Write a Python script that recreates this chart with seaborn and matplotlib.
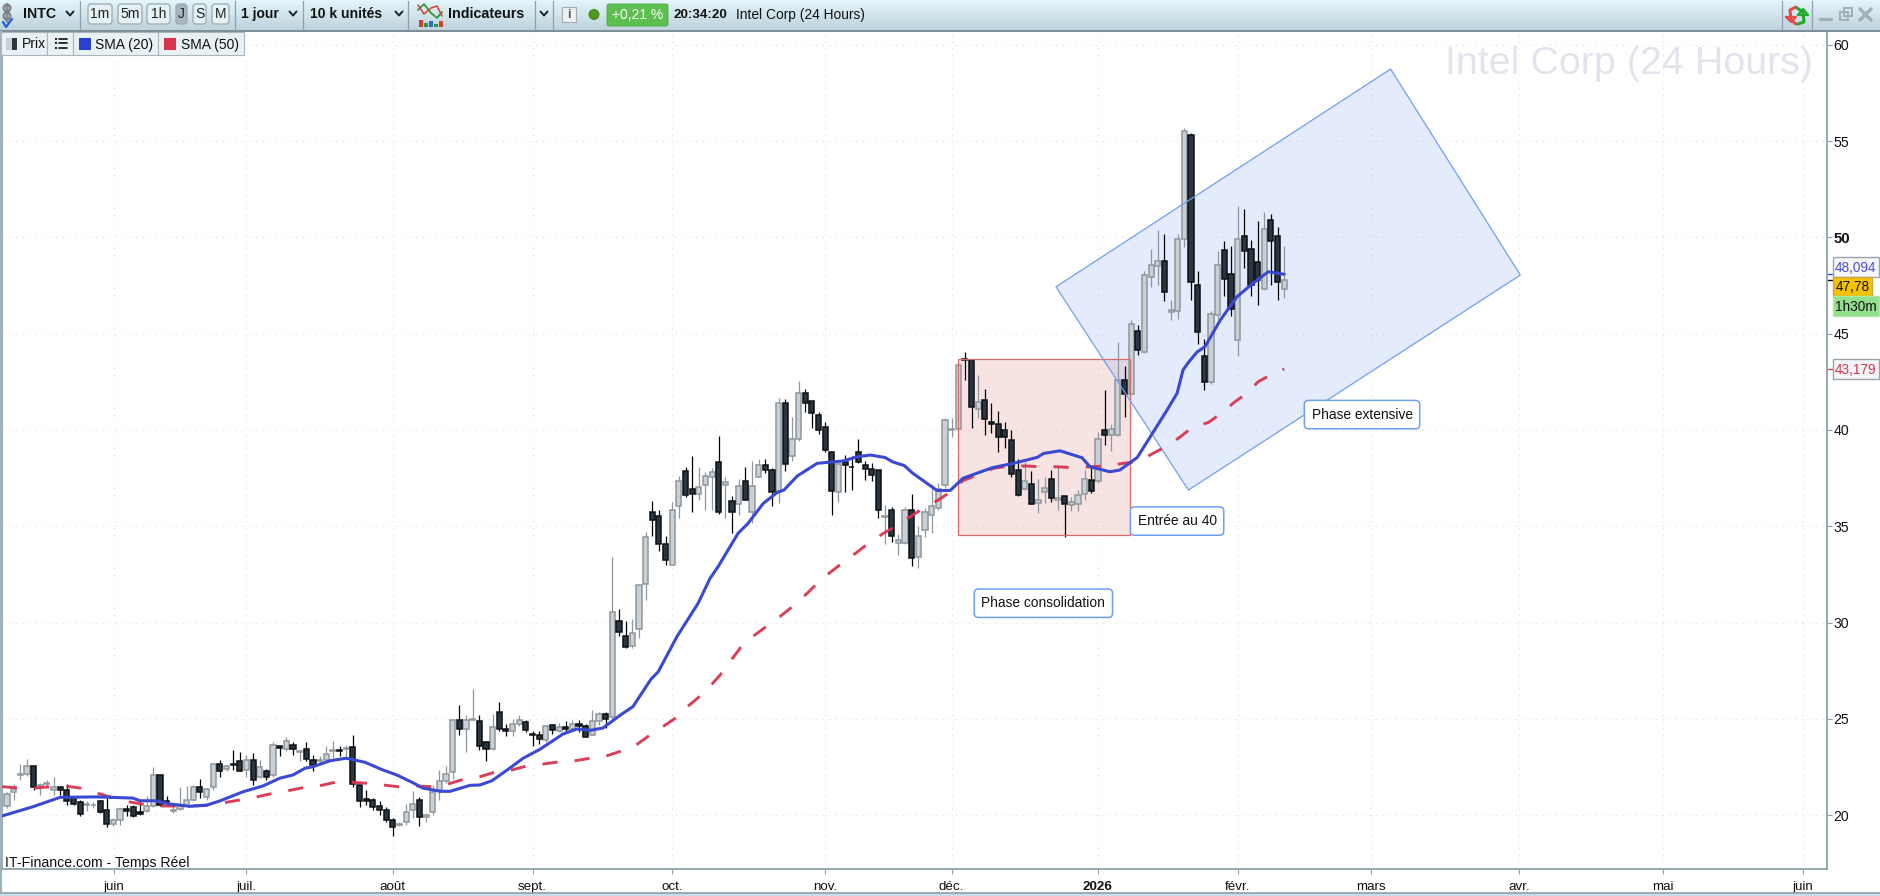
import numpy as np
import pandas as pd
import seaborn as sns
import matplotlib
matplotlib.use("Agg")
import matplotlib.pyplot as plt
from matplotlib.patches import Rectangle, Polygon, FancyBboxPatch, Circle
from matplotlib.colors import LinearSegmentedColormap

opens = [20.45,21.18,22.08,22.11,22.56,21.5,21.62,21.32,21.45,21.3,
         20.94,20.68,20.5,20.5,20.74,20.26,19.53,19.74,20.31,20.42,
         20.16,20.19,20.47,22.08,20.72,20.2,20.31,20.48,20.76,21.45,
         20.92,21.45,22.67,22.37,22.65,22.8,22.32,22.87,22.0,22.29,
         22.08,23.58,23.43,23.64,23.29,23.43,22.86,22.82,22.84,23.34,
         23.38,23.41,23.53,21.56,20.83,20.78,20.47,20.26,19.74,19.48,
         19.64,20.26,20.78,19.9,20.16,21.28,21.77,22.25,24.95,24.48,
         24.96,24.9,23.8,23.44,25.36,24.48,24.38,24.74,24.84,24.19,
         24.17,23.91,24.69,24.38,24.58,24.48,24.74,24.64,24.17,24.9,
         25.26,25.1,30.1,29.32,28.8,29.64,31.98,35.73,35.52,34.06,
         32.97,36.04,37.86,36.93,36.67,37.14,37.55,38.34,37.13,36.29,
         36.14,37.34,35.72,37.55,38.18,37.92,36.82,41.38,38.64,39.55,
         41.9,41.49,40.8,40.17,38.86,36.77,38.34,38.1,38.86,38.18,
         37.97,37.92,35.48,35.82,34.14,34.14,35.87,33.41,34.83,35.56,
         35.96,37.13,40.02,40.03,43.67,43.63,41.08,41.55,40.4,40.3,
         39.98,39.46,37.9,36.91,37.17,36.23,36.8,37.43,36.34,36.55,
         36.1,36.13,36.65,37.38,37.33,39.98,39.72,39.76,42.59,41.87,
         45.14,44.05,47.94,48.5,48.76,46.11,46.17,49.9,55.35,47.52,
         43.84,42.5,45.97,49.33,48.09,44.65,50.06,49.39,48.71,47.31,
         50.89,50.06,47.31]
highs = [21.2,21.6,22.67,22.91,22.56,21.66,21.8,22.0,21.52,21.63,
         21.0,20.8,20.71,20.7,20.8,20.88,19.84,20.36,20.54,20.54,
         20.7,20.97,22.49,22.1,20.97,20.54,21.44,21.49,21.58,21.89,
         21.4,22.7,22.84,22.62,23.39,23.27,23.13,23.2,22.87,22.39,
         23.79,23.6,24.05,23.79,23.39,23.79,23.13,23.08,23.57,23.83,
         23.57,23.65,24.17,21.56,21.32,20.88,20.71,20.42,19.84,19.62,
         20.59,21.26,20.94,20.1,21.56,22.35,22.53,25.0,25.69,25.17,
         26.52,25.22,23.84,25.26,25.88,24.74,25.0,25.17,24.93,24.34,
         24.34,24.69,24.74,24.79,24.86,24.93,24.95,24.74,25.48,25.36,
         25.36,33.4,30.68,30.1,30.17,31.93,34.69,36.32,35.85,34.5,
         36.25,37.62,38.07,38.66,38.07,37.81,38.0,39.67,37.55,36.57,
         37.48,38.08,38.41,38.51,38.51,38.02,41.66,41.61,40.7,42.53,
         42.13,41.49,40.96,40.44,38.86,38.25,38.71,38.65,39.55,38.39,
         38.29,37.92,36.08,36.0,34.62,35.98,36.68,35.0,35.93,37.2,
         37.27,40.6,40.6,43.45,44.05,43.65,42.85,42.12,41.39,40.97,
         40.4,40.0,38.47,38.35,37.85,37.43,37.57,37.92,38.09,36.55,
         36.5,36.9,37.92,38.09,39.88,42.08,40.31,44.57,43.33,45.73,
         45.47,48.25,49.4,50.39,50.16,46.76,50.16,55.71,55.45,48.26,
         44.74,46.16,49.3,49.82,49.56,51.65,51.48,49.87,50.85,51.3,
         51.22,50.53,49.56]
lows = [20.35,20.8,21.8,22.04,21.3,21.02,21.49,21.05,21.05,20.54,
        20.5,19.93,20.19,20.36,20.1,19.36,19.41,19.5,19.97,19.88,
        20.02,20.14,20.42,20.45,20.6,20.1,20.28,20.45,20.73,20.88,
        20.76,21.32,21.99,22.27,22.36,22.27,22.0,21.54,21.92,21.84,
        21.97,23.08,23.31,23.13,22.79,22.79,22.27,22.7,22.79,22.96,
        23.08,22.96,21.44,20.4,20.54,20.28,20.02,19.66,18.93,19.41,
        19.5,19.84,19.41,19.62,20.02,20.76,21.66,21.85,24.13,23.27,
        24.93,23.37,22.8,23.37,24.36,24.1,24.1,24.62,24.31,23.58,
        23.67,23.79,24.2,24.32,24.32,24.36,24.31,24.06,24.13,24.65,
        24.53,25.0,29.29,28.7,28.68,29.2,31.18,34.51,33.73,32.99,
        32.97,35.45,36.51,35.76,36.34,35.85,35.84,35.66,35.44,34.65,
        35.58,36.36,35.17,37.55,37.76,36.05,36.22,37.85,38.37,39.42,
        40.94,40.12,39.77,38.85,35.59,36.28,36.8,36.89,38.29,37.41,
        37.33,35.44,34.09,34.18,33.5,34.06,32.95,32.81,34.44,34.65,
        35.84,36.98,39.65,39.95,42.6,40.12,40.6,39.72,39.83,38.87,
        39.08,37.57,36.58,36.87,36.13,35.71,36.23,36.27,35.83,34.44,
        35.8,35.8,36.35,36.75,37.27,39.22,38.91,39.69,40.68,41.87,
        43.88,44.0,47.45,47.54,46.71,45.73,45.76,49.52,46.73,44.46,
        42.1,42.39,45.76,46.97,45.93,43.83,48.4,46.97,46.5,47.28,
        47.54,46.73,46.88]
closes = [21.1,21.35,22.13,22.56,21.44,21.58,21.66,21.44,21.28,20.71,
          20.55,20.05,20.55,20.54,20.14,19.53,19.76,20.31,20.2,19.93,
          20.05,20.47,22.08,20.5,20.66,20.28,20.45,20.78,21.45,21.18,
          21.35,22.67,22.27,22.55,22.6,22.27,22.87,21.84,22.49,22.0,
          23.64,23.5,23.84,23.41,23.34,22.89,22.6,22.88,23.17,23.38,
          23.33,23.46,21.61,20.71,20.73,20.4,20.26,19.72,19.38,19.53,
          20.14,20.57,19.9,20.0,21.21,21.77,22.13,24.95,24.48,24.95,
          24.99,23.6,23.44,24.57,24.48,24.38,24.74,24.95,24.43,24.15,
          23.96,24.64,24.43,24.57,24.48,24.74,24.62,24.06,24.9,25.26,
          25.0,30.52,29.51,28.73,29.48,31.93,34.43,35.31,34.06,33.26,
          35.83,37.34,36.61,36.67,37.03,37.6,37.82,35.75,37.29,35.72,
          37.08,36.38,37.08,38.18,37.92,36.77,41.38,38.23,39.55,41.9,
          41.38,40.86,40.02,38.95,36.82,38.23,38.18,38.07,38.34,37.97,
          37.66,35.86,35.53,34.49,34.3,35.82,33.36,34.51,35.72,36.03,
          36.92,40.54,40.06,43.37,43.62,41.18,41.44,40.56,40.3,39.62,
          39.62,37.69,36.63,37.33,36.13,36.34,37.01,36.49,36.49,36.13,
          36.25,36.6,37.43,36.81,39.51,39.72,40.03,42.59,41.86,45.5,
          44.14,48.04,48.56,48.76,47.16,46.23,49.9,55.55,47.71,45.07,
          42.5,46.02,48.56,47.83,46.28,49.9,49.28,47.52,47.78,50.42,
          49.8,47.68,47.78]

sma20_idx = [-0.75,3.9,8,13.5,18.9,20,22.3,24.5,27.5,30.1,32,35.5,38.5,41,43,44.8,46,48.6,51,53.8,56.5,58.6,61,62.5,
             65.1,66.6,69.6,71.1,72.9,75.2,77.6,80.1,83.6,85.7,87.7,89.6,92.2,94.1,96.8,97.9,100.7,103.9,105.7,106.9,
             108.4,109.9,111.4,113.7,115.8,116.8,118.8,121.8,125.7,127.8,129.8,132,133.1,134.9,136.1,139.8,141.8,143.7,
             148.1,151.3,154.9,155.8,158.3,161.6,162.8,165.8,167.3,169.9,172.2,174.4,175.9,176.8,177.6,178.9,180.1,182.4,184.9,187.3,189.6,192]
sma20_val = [19.95,20.43,20.92,20.94,20.88,20.74,20.74,20.57,20.45,20.52,20.73,21.21,21.51,21.91,22.08,22.43,22.51,22.82,22.95,22.74,22.34,22.08,21.68,21.4,
             21.23,21.23,21.54,21.56,21.78,22.34,22.95,23.41,24.21,24.47,24.4,24.52,25.19,25.63,27.05,27.44,29.26,31.0,32.3,32.9,
             33.77,34.63,35.15,36.19,36.76,36.88,37.61,38.27,38.39,38.61,38.7,38.57,38.35,38.15,37.77,36.86,36.86,37.49,
             38.04,38.27,38.58,38.78,38.92,38.56,38.09,37.83,37.92,38.57,39.83,41.04,41.91,43.12,43.51,44.05,44.33,45.71,46.92,47.62,48.22,48.09]
sma50_idx = [-0.75,1.2,3.9,6,8.7,11,13.5,15.5,18.2,20.3,23,27.5,29.8,32.8,35,37.3,39.5,42.1,44.5,46.9,49.3,51.9,54.1,56.5,58.8,61.6,63.9,
             66.3,68.6,71.1,73.1,75.9,78.2,80.6,82.8,85.4,87.7,90.2,92.5,94.7,96.7,98.6,100.7,102.4,104.2,106,107.2,110.8,116.5,118.2,120.3,
             121.8,123.7,125.5,127.7,129.5,131.6,133.5,135.8,137.7,140,142.1,143.7,145.8,148.3,150.8,153.1,155.3,157.9,160.3,162.8,165.4,167.8,
             170,172.3,174.4,176.4,178.2,180.6,182.4,184.5,186.4,188.1,190.2,192]
sma50_val = [21.47,21.42,21.4,21.45,21.51,21.4,21.14,20.94,20.69,20.57,20.47,20.47,20.49,20.65,20.78,20.92,21.09,21.25,21.42,21.51,21.7,21.7,21.65,21.56,21.47,21.51,21.47,
             21.61,21.85,21.99,22.2,22.34,22.55,22.65,22.75,22.82,22.95,23.08,23.34,23.67,24.16,24.59,25.08,25.66,26.18,26.81,27.27,28.94,30.39,30.86,31.52,
             32.03,32.59,33.07,33.63,34.11,34.6,34.98,35.5,35.93,36.36,36.85,37.37,37.66,38.01,38.13,38.13,38.09,38.09,38.04,38.09,38.13,38.27,
             38.35,38.79,39.17,39.65,40.14,40.39,40.83,41.44,41.91,42.51,42.91,43.17]

month_pos = [16.1,36,58,79,100,123,142,164,185,205,227.3,249,270]
month_labels = ["juin","juil.","août","sept.","oct.","nov.","déc.","2026","févr.","mars","avr.","mai","juin"]
price_ticks = [20,25,30,35,40,45,50,55,60]

consol_x = [142.9, 168.8]
consol_y = [34.53, 43.69]
channel_x = [208.0, 157.7, 177.6, 227.5]
channel_y = [58.75, 47.44, 36.88, 48.05]

W, H = 1881, 896
sns.set_theme(style="white")
plt.rcParams["font.family"] = ["Liberation Sans", "DejaVu Sans"]
fig = plt.figure(figsize=(W/100, H/100), dpi=100, facecolor="white")
ax = fig.add_axes([2/W, (H-869)/H, (1827-2)/W, (869-32)/H], facecolor="white")

GRIDC = "#dedede"
ax.set_xlim(-0.75, 273.6)
ax.set_ylim(17.195, 60.675)
for v in price_ticks:
    ax.axhline(v, color=GRIDC, lw=0.8, ls=(0, (1, 5)), zorder=0)
for p in month_pos:
    ax.axvline(p, color=GRIDC, lw=0.8, ls=(0, (1, 5)), zorder=0)

ax.add_patch(Rectangle((consol_x[0], consol_y[0]), consol_x[1]-consol_x[0], consol_y[1]-consol_y[0],
                       facecolor="#e89a9a", alpha=0.27, edgecolor="none", zorder=1))
ax.add_patch(Polygon(np.column_stack([channel_x, channel_y]), closed=True,
                     facecolor="#7fa5f5", alpha=0.21, edgecolor="none", zorder=1.1))

df = pd.DataFrame({"o": opens, "h": highs, "l": lows, "c": closes})
df["i"] = np.arange(len(df))
up = df[df.c >= df.o]
dn = df[df.c < df.o]
LE, LF = "#8f979d", "#c9d1d6"
DE, DF = "#0a0f14", "#2b3640"
ax.vlines(up.i, up.l, up.h, color=LE, lw=0.9, zorder=2)
ax.vlines(dn.i, dn.l, dn.h, color="#000000", lw=0.9, zorder=2)
ax.bar(up.i, (up.c-up.o).abs(), bottom=up.o, width=0.78, color=LF, edgecolor=LE, linewidth=1.1, zorder=3)
ax.bar(dn.i, (dn.c-dn.o).abs(), bottom=dn.c, width=0.78, color=DF, edgecolor=DE, linewidth=1.1, zorder=3)

ax.add_patch(Rectangle((consol_x[0], consol_y[0]), consol_x[1]-consol_x[0], consol_y[1]-consol_y[0],
                       facecolor="none", edgecolor="#d96a6a", lw=0.9, zorder=3.5))
ax.add_patch(Polygon(np.column_stack([channel_x, channel_y]), closed=True,
                     facecolor="none", edgecolor="#6f9ff2", lw=0.9, zorder=3.6))

sns.lineplot(x=sma50_idx, y=sma50_val, ax=ax, color="#d9344e", lw=2.1, estimator=None, errorbar=None, sort=False, zorder=4)
ax.lines[-1].set_linestyle((0, (5.2, 5.85)))
ax.lines[-1].set_alpha(0.95)
sns.lineplot(x=sma20_idx, y=sma20_val, ax=ax, color="#3a49d2", lw=2.2, estimator=None, errorbar=None, sort=False, zorder=5)

box = dict(boxstyle="round,pad=0.52,rounding_size=0.3", fc="white", ec="#6f9ff2", lw=1.1)
ax.text(155.8, 31.0, "Phase consolidation", ha="center", va="center", fontsize=9.95, color="#111111", bbox=box, zorder=6)
ax.text(175.9, 35.27, "Entrée au 40", ha="center", va="center", fontsize=9.95, color="#111111", bbox=box, zorder=6)
ax.text(203.7, 40.8, "Phase extensive", ha="center", va="center", fontsize=9.95, color="#111111", bbox=box, zorder=6)

ax.set_xticks(month_pos)
ax.set_xticklabels(month_labels, fontsize=9.6, color="#111111")
for t, lab in zip(ax.get_xticklabels(), month_labels):
    if lab == "2026":
        t.set_fontweight("bold")
ax.yaxis.tick_right()
ax.set_yticks(price_ticks)
ax.set_yticklabels([str(v) for v in price_ticks], fontsize=10.2, color="#111111")
for t, v in zip(ax.get_yticklabels(), price_ticks):
    if v == 50:
        t.set_fontweight("bold")
        t.set_fontsize(10.8)
SP = "#8fa0aa"
ax.tick_params(axis="x", direction="out", length=3.5, width=0.8, color=SP, pad=5, bottom=True)
ax.tick_params(axis="y", direction="out", length=3.5, width=0.8, color=SP, pad=1.0, right=True, left=False)
for s in ["left", "right", "bottom"]:
    ax.spines[s].set_visible(True)
    ax.spines[s].set_color(SP)
    ax.spines[s].set_linewidth(1.3)
ax.spines["top"].set_visible(False)
ax.set_xlabel("")
ax.set_ylabel("")
ax.grid(False)

# ---- chrome in a pixel overlay -------------------------------------------
ov = fig.add_axes([0, 0, 1, 1], facecolor="none", zorder=10)
ov.set_axis_off()
grad = np.linspace(0, 1, 30)[:, None]
cm = LinearSegmentedColormap.from_list("bar", ["#e4f5fb", "#bfd3dc"])
ov.imshow(grad, extent=(0, W, 30, 0), aspect="auto", cmap=cm, zorder=0)
ov.set_xlim(0, W)
ov.set_ylim(H, 0)
ov.add_patch(Rectangle((0, 30), W, 2, fc="#7e8f99", ec="none", zorder=1))
ov.add_patch(Rectangle((0, 893), W, 3, fc="#c9dde6", ec="none", zorder=1))
ov.plot([0, W], [893, 893], color="#8fa0aa", lw=1.2, zorder=1)
ov.plot([1, 1], [30, 893], color="#9fb1bb", lw=1.6, zorder=1)

def txt(x, y, s, size=9.5, color="#111111", weight="normal", ha="left"):
    ov.text(x, y, s, fontsize=size, color=color, fontweight=weight, ha=ha, va="center", zorder=5)

def sep(x, y0=1, y1=29):
    ov.plot([x, x], [y0, y1], color="#8fa0aa", lw=0.9, zorder=2)

def chevron(x, y=13.5):
    ov.plot([x-3.5, x, x+3.5], [y-2, y+2, y-2], color="#222222", lw=1.4, zorder=3)

def btn(x0, x1, s, selected=False):
    ov.add_patch(FancyBboxPatch((x0+1, 5), x1-x0-2, 18, boxstyle="round,pad=1,rounding_size=3",
                                fc="#aab6bd" if selected else "#e6f1f5", ec="#9aa8b0", lw=0.9, zorder=3))
    txt((x0+x1)/2, 14, s, size=10, ha="center", color="#222222")

ov.plot([7, 7], [5, 21], color="#8a8f94", lw=2.6, zorder=3)
ov.add_patch(Circle((7, 8), 3.5, fc="none", ec="#7a7f84", lw=1.4, zorder=3))
ov.add_patch(Circle((7, 16), 3.5, fc="none", ec="#7a7f84", lw=1.4, zorder=3))
ov.plot([3, 6, 12], [22, 27, 19], color="#2060d0", lw=1.6, zorder=3)

txt(23, 14, "INTC", size=10.2, weight="bold")
chevron(70)
sep(80)
for a, b, s, sel in [(88, 112, "1m", False), (118, 142, "5m", False), (147, 170, "1h", False),
                     (176, 187, "J", True), (193, 206, "S", False), (212, 229, "M", False)]:
    btn(a, b, s, sel)
sep(235)
txt(241, 14, "1 jour", size=10, weight="bold")
chevron(293)
sep(303)
txt(310, 14, "10 k unités", size=10.1, weight="bold")
chevron(399)
sep(408)
ov.plot([418, 424, 431, 437, 442], [10, 4, 13, 18, 12], color="#2a9a3a", lw=1.3, zorder=3)
ov.plot([418, 424, 431, 437, 442], [5, 14, 8, 6, 16], color="#d04030", lw=1.1, zorder=3)
for xb, hb, cb in [(419, 7, "#d04030"), (424, 4, "#2a9a3a"), (429, 6, "#2a6ad0"), (434, 3, "#2a9a3a"), (439, 6, "#d04030")]:
    ov.add_patch(Rectangle((xb, 27-hb), 4, hb, fc=cb, ec="none", zorder=3))
txt(448, 14, "Indicateurs", size=10.3, weight="bold")
sep(535)
chevron(544)
sep(553)
ov.add_patch(Rectangle((562, 7), 14, 15, fc="#eef3f5", ec="#a5b0b6", lw=0.9, zorder=3))
txt(569, 14.5, "i", size=9, ha="center", color="#555555", weight="bold")
ov.add_patch(Circle((594, 14.5), 5, fc="#4f9a1a", ec="#3c7d10", lw=0.6, zorder=3))
ov.add_patch(FancyBboxPatch((608, 5), 59, 20, boxstyle="round,pad=1,rounding_size=2", fc="#5cbf4f", ec="#4aa83f", lw=0.6, zorder=3))
txt(637.5, 15, "+0,21 %", size=10, color="white", ha="center")
txt(673, 14.5, "20:34:20", size=9.6, weight="bold")
txt(736, 14.5, "Intel Corp (24 Hours)", size=9.9)

sep(1782)
sep(1812)
ov.plot([1796, 1790, 1791, 1796], [7, 10, 20, 24], color="#e84b4b", lw=2.2, zorder=3)
ov.plot([1786, 1791, 1796, 1786], [17, 22, 17, 17], color="#e84b4b", lw=1.6, zorder=3)
ov.plot([1798, 1804, 1803, 1797], [24, 22, 12, 8], color="#22aa2a", lw=2.2, zorder=3)
ov.plot([1798, 1803, 1808, 1798], [15, 9, 15, 15], color="#22aa2a", lw=1.6, zorder=3)
GI = "#a3afb6"
ov.plot([1820, 1831], [19, 19], color=GI, lw=2.4, zorder=3)
ov.add_patch(Rectangle((1840, 12), 8, 8, fc="none", ec=GI, lw=1.4, zorder=3))
ov.add_patch(Rectangle((1844, 8), 8, 8, fc="none", ec=GI, lw=1.4, zorder=2))
ov.plot([1860, 1871], [9, 20], color=GI, lw=2.4, zorder=3)
ov.plot([1871, 1860], [9, 20], color=GI, lw=2.4, zorder=3)

LEG = "#e9f1f4"
for a, b in [(1, 47), (47, 73), (73, 158), (158, 244)]:
    ov.add_patch(Rectangle((a, 32), b-a, 23.5, fc=LEG, ec="#a8b6bd", lw=0.8, zorder=3))
ov.add_patch(Rectangle((6, 38), 6, 12, fc="#c9d1d6", ec="none", zorder=4))
ov.add_patch(Rectangle((12, 38), 5, 12, fc="#2b3640", ec="none", zorder=4))
txt(22, 44.5, "Prix", size=10)
for yy in [39, 43.5, 48]:
    ov.add_patch(Rectangle((55, yy-1), 2, 2, fc="#222222", ec="none", zorder=4))
    ov.plot([58.5, 67], [yy, yy], color="#222222", lw=1.3, zorder=4)
ov.add_patch(Rectangle((79, 38), 12, 12, fc="#2b3fd0", ec="none", zorder=4))
txt(95, 44.5, "SMA (20)", size=10)
ov.add_patch(Rectangle((164, 38), 12, 12, fc="#d9344e", ec="none", zorder=4))
txt(181, 44.5, "SMA (50)", size=10)

ov.text(1813, 74, "Intel Corp (24 Hours)", fontsize=28.4, color="#e1e4ec", ha="right", va="baseline", zorder=0.5)
txt(5, 862.5, "IT-Finance.com - Temps Réel", size=10.2)

def tag(x0, x1, y0, y1, s, fc, ec, tc):
    ov.add_patch(Rectangle((x0, y0), x1-x0, y1-y0, fc=fc, ec=ec, lw=1.0, zorder=4))
    txt((x0+x1)/2, (y0+y1)/2+0.5, s, size=9.8, color=tc, ha="center")

ov.plot([1828, 1832], [274, 274], color="#3a49d2", lw=1.0, zorder=3)
ov.plot([1828, 1832], [280, 280], color="#000000", lw=1.0, zorder=3)
ov.plot([1828, 1832], [369, 369], color="#d9344e", lw=1.0, zorder=3)
tag(1832.5, 1879, 257.5, 277, "48,094", "#f6f6f8", "#9aa4aa", "#4a50d8")
tag(1833, 1872, 277, 296, "47,78", "#f6c200", "#c9a84a", "#111111")
tag(1832.5, 1879, 296.5, 316.5, "1h30m", "#93e08c", "#aee8a8", "#111111")
tag(1832.5, 1879, 359.5, 379, "43,179", "#f6f6f8", "#9aa4aa", "#d9344e")

fig.savefig("out.png", dpi=100)
